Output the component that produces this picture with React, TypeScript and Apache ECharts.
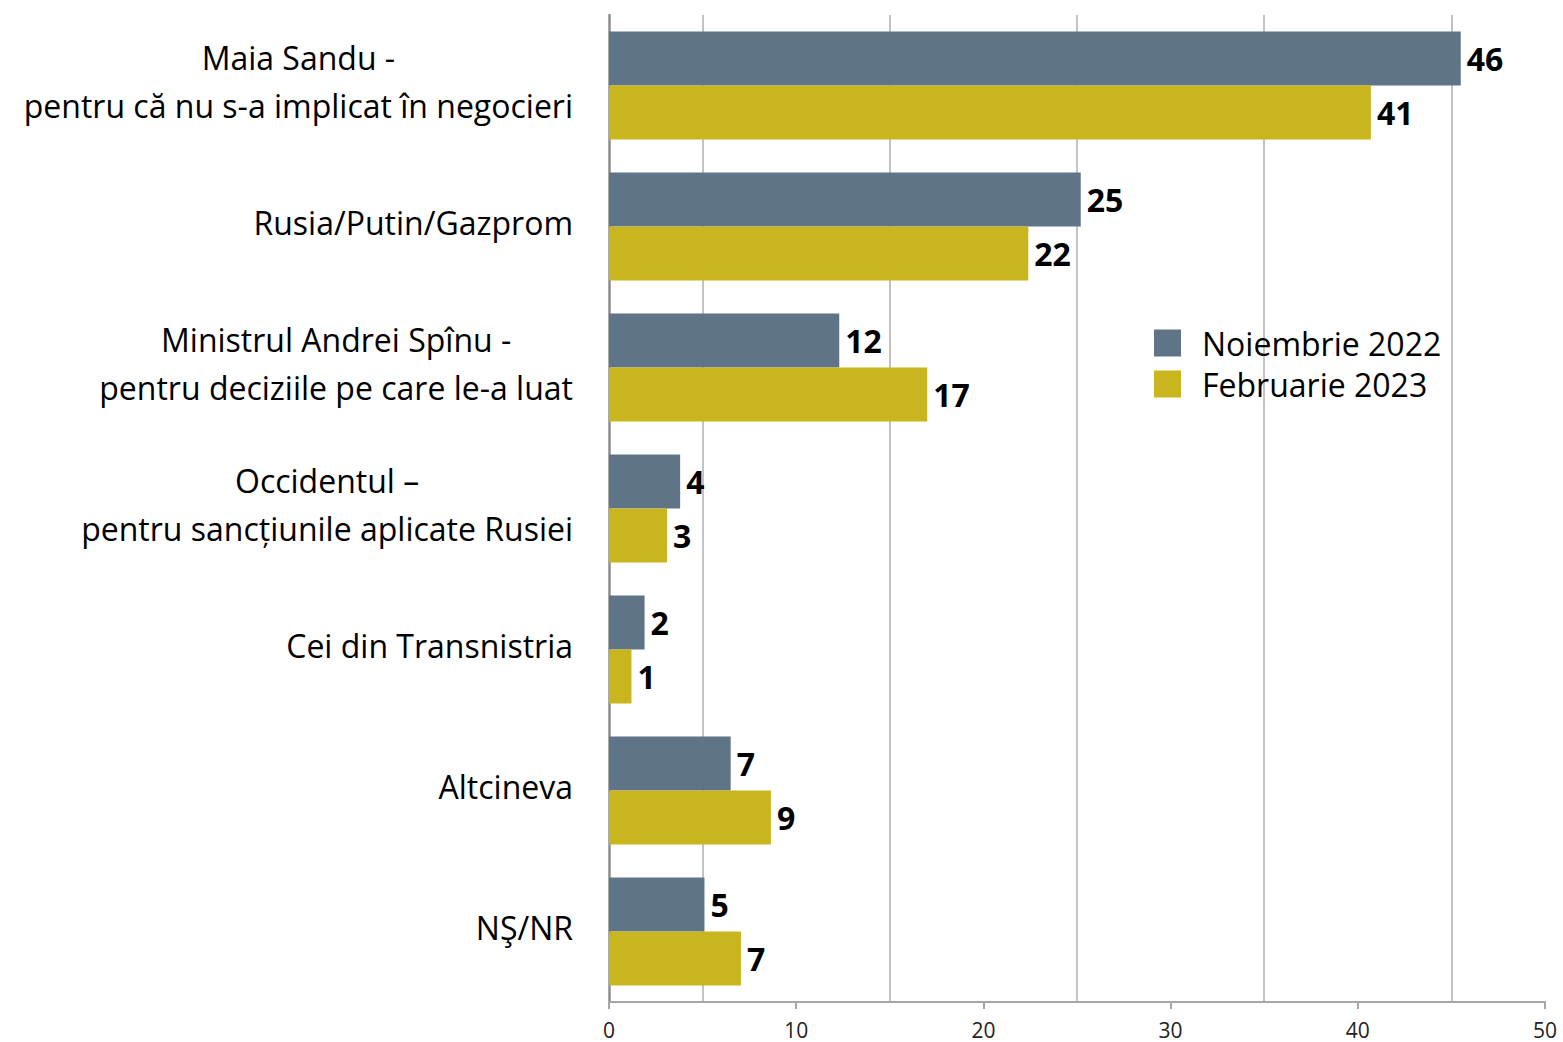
import React, { useEffect, useRef } from "react";
import * as echarts from "echarts";

const categories = [
  "Maia Sandu -\npentru că nu s-a implicat în negocieri",
  "Rusia/Putin/Gazprom",
  "Ministrul Andrei Spînu -\npentru deciziile pe care le-a luat",
  "Occidentul –\npentru sancțiunile aplicate Rusiei",
  "Cei din Transnistria",
  "Altcineva",
  "NŞ/NR",
];
const seriesNames = ["Noiembrie 2022", "Februarie 2023"];
const novValues = [45.5, 25.2, 12.3, 3.8, 1.9, 6.5, 5.1];
const febValues = [40.7, 22.4, 17.0, 3.1, 1.2, 8.65, 7.05];
const xTicks = [0, 10, 20, 30, 40, 50];

const FONT = "Open Sans";
const COLORS = ["#5f7587", "#c9b61e"];

export default function App() {
  const ref = useRef<HTMLDivElement>(null);
  useEffect(() => {
    document.body.style.margin = "0";
    if (!ref.current) return;
    const chart = echarts.init(ref.current, undefined, { renderer: "svg" });
    const labelCfg = {
      show: true,
      position: "right" as const,
      distance: 6,
      fontFamily: FONT,
      fontWeight: "bold" as const,
      fontSize: 32,
      color: "#000",
      formatter: (p: any) => String(Math.round(p.value)),
    };
    chart.setOption({
      animation: false,
      textStyle: { fontFamily: FONT },
      grid: { left: 609, right: 18, top: 15, bottom: 40, containLabel: false },
      legend: {
        orient: "vertical",
        left: 1154,
        top: 327,
        padding: 0,
        itemWidth: 27,
        itemHeight: 27,
        itemGap: 9,
        icon: "rect",
        data: seriesNames,
        textStyle: {
          fontFamily: FONT,
          fontSize: 32,
          color: "#000",
          padding: [0, 0, 0, 16],
        },
      },
      xAxis: {
        type: "value",
        min: xTicks[0],
        max: xTicks[xTicks.length - 1],
        interval: 10,
        axisLine: { show: true, lineStyle: { color: "#a6a6a6", width: 2 } },
        axisTick: { show: true, length: 7, lineStyle: { color: "#a6a6a6", width: 2 } },
        axisLabel: { fontFamily: FONT, fontSize: 21, color: "#222", margin: 17 },
        splitLine: { show: false },
        minorTick: { show: false, splitNumber: 2 },
        minorSplitLine: { show: true, lineStyle: { color: "#c3c3c3", width: 2 } },
      },
      yAxis: {
        type: "category",
        inverse: true,
        data: categories,
        axisLine: { show: true, lineStyle: { color: "#8c8c8c", width: 2.5 } },
        axisTick: { show: false },
        axisLabel: {
          margin: 36,
          padding: [0, 0, 8, 0],
          formatter: (v: string) =>
            v
              .split("\n")
              .map((s) => `{a|${s}}`)
              .join("\n"),
          rich: {
            a: {
              align: "center",
              fontFamily: FONT,
              fontSize: 32,
              lineHeight: 48,
              color: "#000",
            },
          },
        },
      },
      series: [
        {
          name: seriesNames[0],
          type: "bar",
          data: novValues,
          barWidth: 54,
          barGap: "0%",
          itemStyle: { color: COLORS[0] },
          label: labelCfg,
        },
        {
          name: seriesNames[1],
          type: "bar",
          data: febValues,
          barWidth: 54,
          barGap: "0%",
          itemStyle: { color: COLORS[1] },
          label: labelCfg,
        },
      ],
    });
    return () => chart.dispose();
  }, []);
  return <div ref={ref} style={{ width: 1563, height: 1042 }} />;
}
